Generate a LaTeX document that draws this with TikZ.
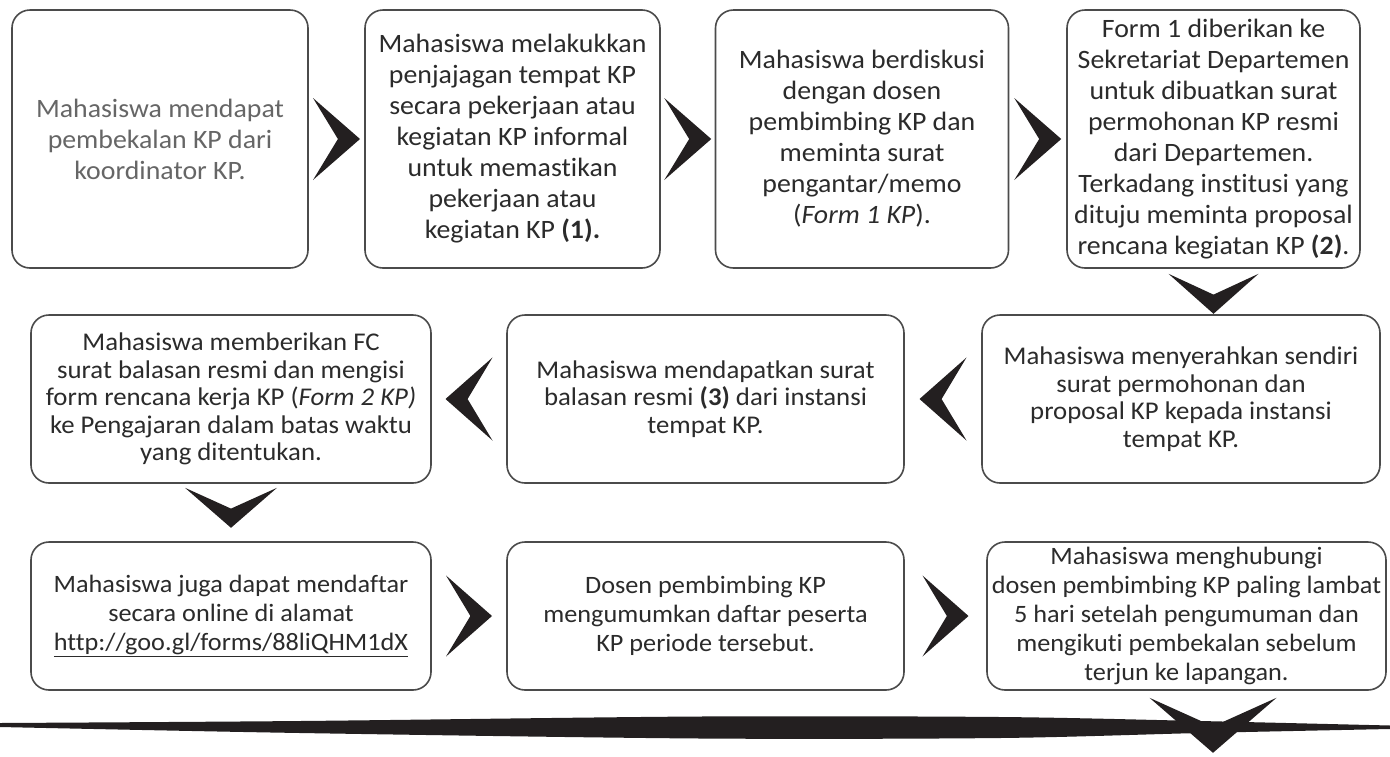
\documentclass[tikz,border=0pt]{standalone}
\usepackage{fontspec}
\setmainfont{Carlito}[Ligatures={TeX,NoCommon}, FakeStretch=1.05]
\usetikzlibrary{calc}
\definecolor{ink}{HTML}{2B2B2B}
\definecolor{chev}{HTML}{231F20}
\definecolor{greytext}{HTML}{666666}
\begin{document}
\begin{tikzpicture}[x=1pt,y=-1pt,
  box/.style={draw=ink!85, line width=1.6pt, rounded corners=18pt, align=center,
    inner sep=1pt, text=ink, fill=white},
  rowA/.style={box, minimum height=258, font=\fontsize{26.5}{31}\selectfont},
  rowB/.style={box, minimum height=168, font=\fontsize{25.5}{27.5}\selectfont},
  rowC/.style={box, minimum height=148, font=\fontsize{25}{29}\selectfont},
  chevR/.pic={\fill[chev] (-0.5,-0.5) -- (0.5,0) -- (-0.5,0.5) -- (0.03,0) -- cycle;},
  chevD/.pic={\fill[chev] (-0.5,-0.5) -- (0,0.5) -- (0.5,-0.5) -- (0,0.02) -- cycle;},
]
\useasboundingbox (0,0) rectangle (1390,756);
\fill[white] (0,0) rectangle (1390,756);

% bottom brush bar
\fill[chev] plot[smooth] coordinates {(0,723) (300,721) (700,716.5) (1000,717) (1200,721) (1390,725.5)}
  -- plot[smooth] coordinates {(1390,729) (1200,733) (1000,738) (700,738.5) (300,733) (0,727)} -- cycle;

% row 1
\node[rowA, minimum width=296, text=greytext] (b1) at (160,139)
  {Mahasiswa mendapat\\pembekalan KP dari\\koordinator KP.};
\node[rowA, minimum width=295] (b2) at (512.5,139)
  {Mahasiswa melakukkan\\penjajagan tempat KP\\secara pekerjaan atau\\kegiatan KP informal\\untuk memastikan\\pekerjaan atau\\kegiatan KP \textbf{(1).}};
\node[rowA, minimum width=293] (b3) at (862,139)
  {Mahasiswa berdiskusi\\dengan dosen\\pembimbing KP dan\\meminta surat\\pengantar/memo\\(\textit{Form 1 KP}).};
\node[rowA, minimum width=293] (b4) at (1213.5,139)
  {Form 1 diberikan ke\\Sekretariat Departemen\\untuk dibuatkan surat\\permohonan KP resmi\\dari Departemen.\\Terkadang institusi yang\\dituju meminta proposal\\rencana kegiatan KP \textbf{(2)}.};

% row 2
\node[rowB, minimum width=400] (b5) at (231,399)
  {Mahasiswa memberikan FC\\surat balasan resmi dan mengisi\\form rencana kerja KP (\textit{Form 2 KP)}\\ke Pengajaran dalam batas waktu\\yang ditentukan.};
\node[rowB, minimum width=397] (b6) at (705.5,399)
  {Mahasiswa mendapatkan surat\\balasan resmi \textbf{(3)} dari instansi\\tempat KP.};
\node[rowB, minimum width=398] (b7) at (1181,399)
  {Mahasiswa menyerahkan sendiri\\surat permohonan dan\\proposal KP kepada instansi\\tempat KP.};

% row 3
\node[rowC, minimum width=400] (b8) at (231,616)
  {Mahasiswa juga dapat mendaftar\\secara online di alamat\\\underline{http://goo.gl/forms/88liQHM1dX}};
\node[rowC, minimum width=397] (b9) at (705.5,616)
  {Dosen pembimbing KP\\mengumumkan daftar peserta\\KP periode tersebut.};
\node[rowC, minimum width=399] (b10) at (1186.5,616)
  {Mahasiswa menghubungi\\dosen pembimbing KP paling lambat\\5 hari setelah pengumuman dan\\mengikuti pembekalan sebelum\\terjun ke lapangan.};

% chevron connectors
\pic[xscale=47, yscale=82] at ($(b1.east)!0.5!(b2.west)$) {chevR};
\pic[xscale=47, yscale=82] at ($(b2.east)!0.5!(b3.west)$) {chevR};
\pic[xscale=47, yscale=82] at ($(b3.east)!0.5!(b4.west)$) {chevR};
\pic[xscale=90, yscale=40] at ($(b4.south)+(0,25)$) {chevD};
\pic[xscale=-47, yscale=83] at ($(b7.west)!0.5!(b6.east)$) {chevR};
\pic[xscale=-47, yscale=83] at ($(b6.west)!0.5!(b5.east)$) {chevR};
\pic[xscale=92, yscale=40] at ($(b5.south)+(0,24)$) {chevD};
\pic[xscale=46, yscale=81] at ($(b8.east)!0.5!(b9.west)$) {chevR};
\pic[xscale=46, yscale=81] at ($(b9.east)!0.5!(b10.west)$) {chevR};
\pic[xscale=127, yscale=55] at ($(b10.south)+(26.5,34.5)$) {chevD};
\end{tikzpicture}
\end{document}
